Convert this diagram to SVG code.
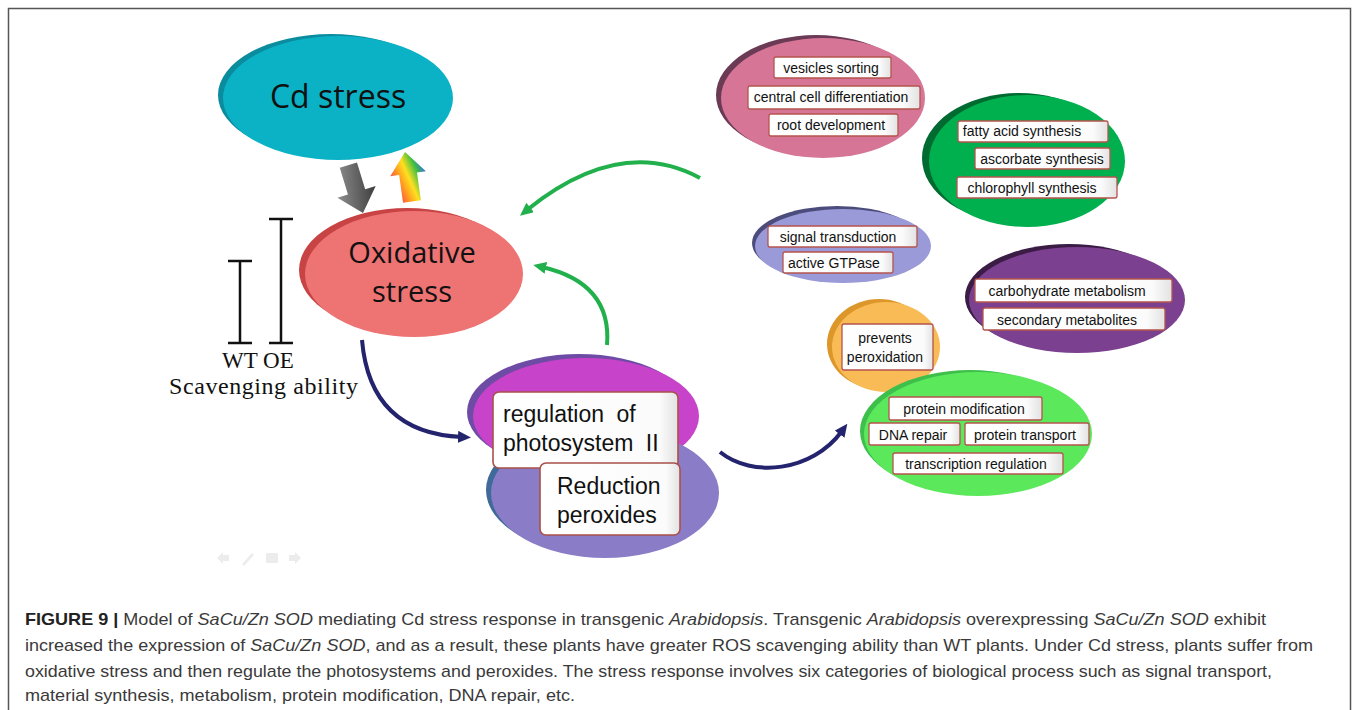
<svg xmlns="http://www.w3.org/2000/svg" width="1358" height="710" viewBox="0 0 1358 710">
<style>
.lb{fill:url(#boxg);stroke:#B5544E;stroke-width:1.3}
.bb{fill:url(#boxg);stroke:#A8504A;stroke-width:1.6}
.lt{font-family:"Liberation Sans",Arial,sans-serif;font-size:14px;fill:#111;text-anchor:middle}
.bt{font-family:"Liberation Sans",Arial,sans-serif;font-size:23px;fill:#111}
.nt{font-family:"Open Sans","Liberation Sans",sans-serif;fill:#111;text-anchor:middle}
.sv{font-family:"Liberation Serif","Times New Roman",serif;fill:#111}
.cap{font-family:"Liberation Sans",Arial,sans-serif;font-size:17px;fill:#3a3a3a}
.bar{stroke:#111;stroke-width:2.5;fill:none}
.ga{fill:none;stroke:#22B04C;stroke-width:4}
.na{fill:none;stroke:#23236E;stroke-width:4}
</style>
<defs>
<linearGradient id="boxg" x1="0" y1="0" x2="1" y2="0">
<stop offset="0" stop-color="#ffffff"/><stop offset="0.9" stop-color="#fbfbfb"/><stop offset="1" stop-color="#e2e2e2"/>
</linearGradient>
<linearGradient id="rain" x1="0" y1="0.7" x2="1" y2="0.3">
<stop offset="0" stop-color="#ff3050"/><stop offset="0.3" stop-color="#ffa020"/><stop offset="0.5" stop-color="#ffe020"/><stop offset="0.75" stop-color="#40c040"/><stop offset="1" stop-color="#3060ff"/>
</linearGradient>
<linearGradient id="gray" x1="0" y1="0" x2="1" y2="0.3">
<stop offset="0" stop-color="#333"/><stop offset="1" stop-color="#8a8a8a"/>
</linearGradient>
<marker id="mg" markerWidth="13" markerHeight="12" refX="4" refY="6" orient="auto" markerUnits="userSpaceOnUse"><path d="M0,0 L13,6 L0,12 Z" fill="#22B04C"/></marker>
<marker id="mn" markerWidth="13" markerHeight="12" refX="4" refY="6" orient="auto" markerUnits="userSpaceOnUse"><path d="M0,0 L13,6 L0,12 Z" fill="#23236E"/></marker>
</defs>
<rect width="1358" height="710" fill="#fff"/>
<path d="M8.5,712 V8.5 H1350.5 V712" fill="none" stroke="#555" stroke-width="1.5"/>

<g id="connectors">
<path class="ga" d="M700,178 Q620,135 527,210" marker-end="url(#mg)"/>
<path class="ga" d="M607,345 Q612,283 542,267" marker-end="url(#mg)"/>
<path class="na" d="M362,340 Q370,433 462,437" marker-end="url(#mn)"/>
<path class="na" d="M720,452 C752,478 812,472 842,431" marker-end="url(#mn)"/>
<polygon points="-9,50 -9,22 -20,22 0,0 20,22 9,22 9,50" fill="url(#gray)" transform="translate(363,213) rotate(163)"/>
<polygon points="-9,50 -9,22 -18,22 0,0 18,22 9,22 9,50" fill="url(#rain)" transform="translate(405,152) rotate(-8)"/>
</g>

<g id="cd-stress">
<ellipse cx="331" cy="95" rx="113" ry="61" fill="#0A8C9E"/>
<ellipse cx="338" cy="98" rx="115" ry="62" fill="#0BB2C6"/>
<text class="nt" x="338" y="108" font-size="32">Cd stress</text>
</g>

<g id="oxidative-stress">
<ellipse cx="407" cy="270" rx="108" ry="62" fill="#C84444"/>
<ellipse cx="414" cy="274" rx="109" ry="63" fill="#EE7373"/>
<text class="nt" x="412" y="263" font-size="29">Oxidative</text>
<text class="nt" x="412" y="302" font-size="29">stress</text>
</g>

<g id="scavenging">
<path class="bar" d="M240,261 V343 M228,261 H252 M228,343 H252"/>
<path class="bar" d="M281,219 V343 M269,219 H293 M269,343 H293"/>
<text class="sv" x="222" y="368" font-size="23">WT OE</text>
<text class="sv" x="169" y="394" font-size="24" textLength="189">Scavenging ability</text>
</g>

<g id="photosystem">
<ellipse cx="579" cy="412" rx="112" ry="58" fill="#6E4CA6"/>
<ellipse cx="586" cy="416" rx="113" ry="58" fill="#C743C9"/>
<ellipse cx="598" cy="490" rx="112" ry="64" fill="#3F6A9A"/>
<ellipse cx="605" cy="493" rx="114" ry="65" fill="#8A7CC6"/>
<rect class="bb" x="493" y="392" width="185" height="76" rx="6"/>
<text class="bt" x="503" y="422" word-spacing="6">regulation of</text>
<text class="bt" x="503" y="451" word-spacing="6">photosystem II</text>
<rect class="bb" x="540" y="463" width="140" height="72" rx="6"/>
<text class="bt" x="557" y="494">Reduction</text>
<text class="bt" x="557" y="523">peroxides</text>
</g>

<g id="vesicles">
<ellipse cx="816" cy="95" rx="100" ry="60" fill="#6B3A55"/>
<ellipse cx="823" cy="98" rx="102" ry="60" fill="#D77597"/>
<rect class="lb" x="774" y="57" width="117" height="21" rx="2"/>
<text class="lt" x="831" y="73">vesicles  sorting</text>
<rect class="lb" x="748" y="86" width="172" height="23" rx="2"/>
<text class="lt" x="831" y="102">central cell differentiation</text>
<rect class="lb" x="769" y="114" width="129" height="22" rx="2"/>
<text class="lt" x="831" y="130">root development</text>
</g>

<g id="synthesis">
<ellipse cx="1019" cy="158" rx="97" ry="65" fill="#006B30"/>
<ellipse cx="1027" cy="161" rx="98" ry="66" fill="#00B04F"/>
<rect class="lb" x="958" y="121" width="150" height="21" rx="2"/>
<text class="lt" x="1022" y="136">fatty acid synthesis</text>
<rect class="lb" x="975" y="148" width="135" height="21" rx="2"/>
<text class="lt" x="1042" y="164">ascorbate synthesis</text>
<rect class="lb" x="957" y="177" width="160" height="21" rx="2"/>
<text class="lt" x="1032" y="193">chlorophyll  synthesis</text>
</g>

<g id="signal">
<ellipse cx="837" cy="243" rx="85" ry="37" fill="#4C4C7C"/>
<ellipse cx="843" cy="246" rx="88" ry="37" fill="#9A9AD8"/>
<rect class="lb" x="768" y="226" width="149" height="21" rx="2"/>
<text class="lt" x="838" y="242">signal transduction</text>
<rect class="lb" x="783" y="252" width="110" height="21" rx="2"/>
<text class="lt" x="834" y="268">active GTPase</text>
</g>

<g id="metabolism">
<ellipse cx="1069" cy="297" rx="104" ry="53" fill="#3A1C44"/>
<ellipse cx="1077" cy="300" rx="108" ry="53" fill="#7B408F"/>
<rect class="lb" x="975" y="279" width="197" height="23" rx="2"/>
<text class="lt" x="1067" y="296">carbohydrate metabolism</text>
<rect class="lb" x="983" y="308" width="182" height="22" rx="2"/>
<text class="lt" x="1067" y="325">secondary metabolites</text>
</g>

<g id="prevents">
<ellipse cx="879" cy="344" rx="52" ry="45" fill="#DC962A"/>
<ellipse cx="886" cy="347" rx="54" ry="45" fill="#F9BB55"/>
<rect class="lb" x="842" y="324" width="91" height="46" rx="2"/>
<text class="lt" x="885" y="343">prevents</text>
<text class="lt" x="885" y="362">peroxidation</text>
</g>

<g id="protein">
<ellipse cx="970" cy="431" rx="110" ry="61" fill="#3EBF4C"/>
<ellipse cx="978" cy="434" rx="114" ry="62" fill="#5BE85B"/>
<rect class="lb" x="889" y="397" width="153" height="23" rx="2"/>
<text class="lt" x="964" y="414">protein modification</text>
<rect class="lb" x="869" y="423" width="91" height="22" rx="2"/>
<text class="lt" x="913" y="440">DNA  repair</text>
<rect class="lb" x="965" y="423" width="124" height="22" rx="2"/>
<text class="lt" x="1025" y="440">protein transport</text>
<rect class="lb" x="893" y="453" width="170" height="21" rx="2"/>
<text class="lt" x="976" y="469">transcription regulation</text>
</g>

<g id="faint-icons" fill="#ececec">
<path d="M217,558 l6,-6 v3 h6 v6 h-6 v3 z"/>
<path d="M242,564 l10,-11 l2,2 l-10,11 z"/>
<rect x="266" y="553" width="12" height="10" rx="1"/>
<path d="M301,558 l-6,-6 v3 h-6 v6 h6 v3 z"/>
</g>

<g id="caption">
<text class="cap" x="25" y="625" textLength="1241" lengthAdjust="spacingAndGlyphs"><tspan font-weight="bold" fill="#222">FIGURE 9 |</tspan> Model of <tspan font-style="italic">SaCu/Zn SOD</tspan> mediating Cd stress response in transgenic <tspan font-style="italic">Arabidopsis</tspan>. Transgenic <tspan font-style="italic">Arabidopsis</tspan> overexpressing <tspan font-style="italic">SaCu/Zn SOD</tspan> exhibit</text>
<text class="cap" x="25" y="651" textLength="1288" lengthAdjust="spacingAndGlyphs">increased the expression of <tspan font-style="italic">SaCu/Zn SOD</tspan>, and as a result, these plants have greater ROS scavenging ability than WT plants. Under Cd stress, plants suffer from</text>
<text class="cap" x="25" y="677" textLength="1247" lengthAdjust="spacingAndGlyphs">oxidative stress and then regulate the photosystems and peroxides. The stress response involves six categories of biological process such as signal transport,</text>
<text class="cap" x="25" y="701" textLength="550" lengthAdjust="spacingAndGlyphs">material synthesis, metabolism, protein modification, DNA repair, etc.</text>
</g>
</svg>
